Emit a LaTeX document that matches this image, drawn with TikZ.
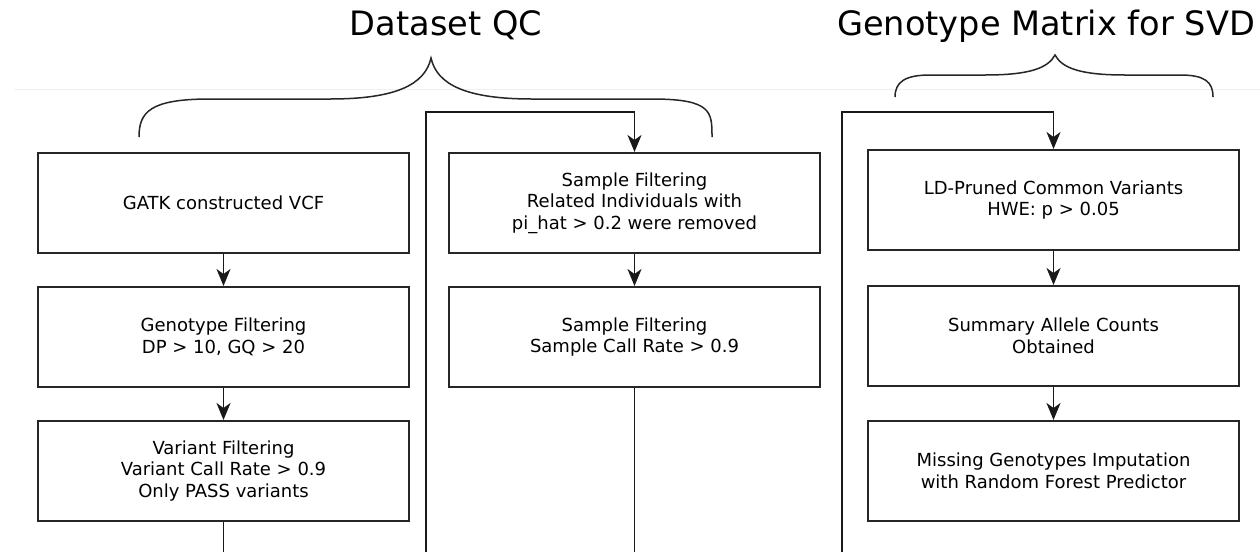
\documentclass[tikz,border=0pt]{standalone}
\usepackage{fontspec}
\setmainfont{DejaVu Sans}
\usetikzlibrary{arrows.meta}
\begin{document}
\begin{tikzpicture}[x=1pt,y=-1pt,
  box/.style={draw=black!85, line width=2pt, minimum width=371pt, minimum height=100pt,
    inner sep=0pt, align=center, font=\fontsize{18}{21.7}\selectfont},
  conn/.style={line width=1.7pt, draw=black!90},
  arr/.style={conn, -{Stealth[length=17pt,width=14pt,inset=5pt]}},
  title/.style={font=\fontsize{33.6}{40}\selectfont, anchor=base},
  bracepath/.style={line width=1.5pt, draw=black!85}]
\useasboundingbox (0,0) rectangle (1260,552);
\fill[white] (0,0) rectangle (1260,552);
% faint rule
\draw[line width=1pt, draw=black!6] (14,89) -- (1260,89);
% titles
\node[title] (t1) at (446,35) {Dataset QC};
\node[title] (t2) at (1046,35) {Genotype Matrix for SVD};
% braces
\draw[bracepath] (139,137) .. controls (139,112) and (150,99) .. (210,99)
  -- (330,99) .. controls (395,99) and (425,85) .. (431,58)
  .. controls (437,85) and (467,99) .. (532,99)
  -- (652,99) .. controls (712,99) and (712,112) .. (712,137);
\draw[bracepath] (895,97) .. controls (895,82) and (905,75) .. (930,75)
  -- (985,75) .. controls (1030,75) and (1048,68) .. (1055,55)
  .. controls (1062,68) and (1080,75) .. (1125,75)
  -- (1180,75) .. controls (1205,75) and (1213,82) .. (1213,97);
% boxes
\node[box] (b1) at (223.5,203) {GATK constructed VCF};
\node[box] (b2) at (223.5,337) {Genotype Filtering\\DP > 10, GQ > 20};
\node[box] (b3) at (223.5,471) {Variant Filtering\\Variant Call Rate > 0.9\\Only PASS variants};
\node[box] (b4) at (634.5,203) {Sample Filtering\\Related Individuals with\\pi\_hat > 0.2 were removed};
\node[box] (b5) at (634.5,337) {Sample Filtering\\Sample Call Rate > 0.9};
\node[box] (b7) at (1053.5,200) {LD-Pruned Common Variants\\HWE: p > 0.05};
\node[box] (b8) at (1053.5,336) {Summary Allele Counts\\Obtained};
\node[box] (b9) at (1053.5,471) {Missing Genotypes Imputation\\with Random Forest Predictor};
% coordinates
\coordinate (e3) at (223.5,552);
\coordinate (e5) at (634.5,552);
\coordinate (m1) at (426,552);
\coordinate (m2) at (426,112);
\coordinate (r1) at (842,552);
\coordinate (r2) at (842,112);
% connectors
\draw[arr] (b1) -- (b2);
\draw[arr] (b2) -- (b3);
\draw[conn] (b3.south) -- (e3);
\draw[arr] (b4) -- (b5);
\draw[conn] (b5.south) -- (e5);
\draw[arr] (m1) -- (m2) -| (b4.north);
\draw[arr] (b7) -- (b8);
\draw[arr] (b8) -- (b9);
\draw[arr] (r1) -- (r2) -| (b7.north);
\end{tikzpicture}
\end{document}
